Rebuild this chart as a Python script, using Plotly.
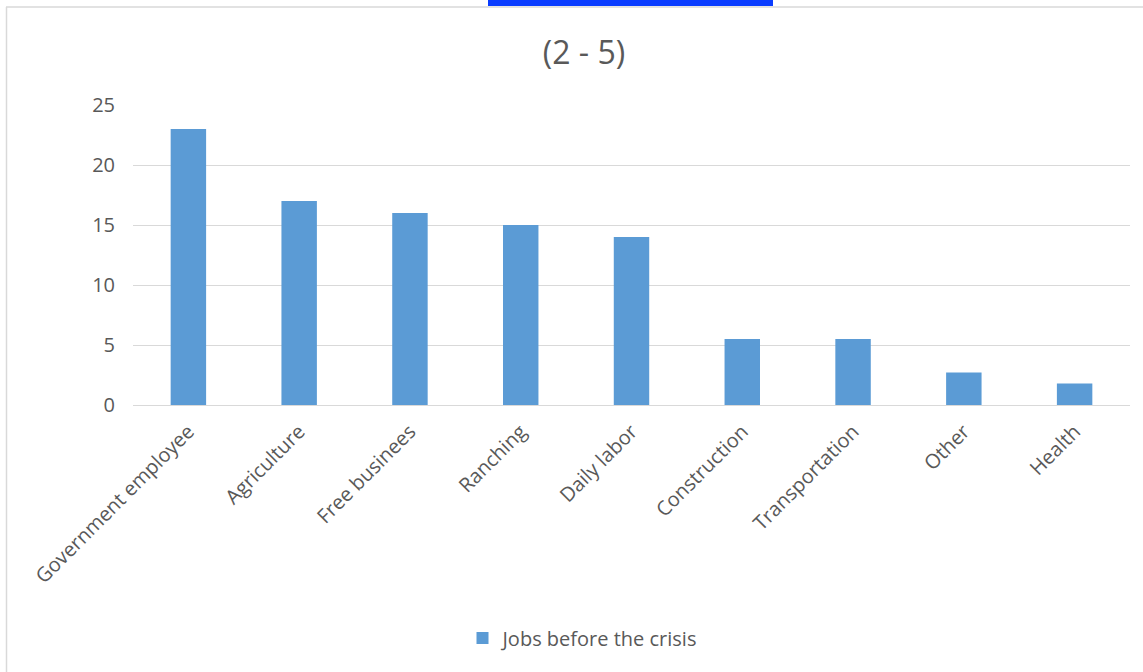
import plotly.graph_objects as go

categories = ["Government employee", "Agriculture", "Free businees", "Ranching",
              "Daily labor", "Construction", "Transportation", "Other", "Health"]
values = [23, 17, 16, 15, 14, 5.5, 5.5, 2.7, 1.8]
series_name = "Jobs before the crisis"
y_ticks = [0, 5, 10, 15, 20, 25]

W, H = 1143, 672
L, R, T, B = 133, 13, 105, 267
pw, ph = W - L - R, H - T - B

def px_x(x):
    return (x - L) / pw

def px_y(y):
    return (H - B - y) / ph

FONT = "Open Sans"
TXT = "#595959"

fig = go.Figure()
fig.add_trace(go.Bar(
    x=categories, y=values, name=series_name,
    marker=dict(color="#5b9bd5", line=dict(width=0)),
    width=0.32, showlegend=True,
))

fig.update_layout(
    width=W, height=H, autosize=False,
    margin=dict(l=L, r=R, t=T, b=B),
    paper_bgcolor="white", plot_bgcolor="white",
    title=dict(text="(2 - 5)", x=584 / W, xanchor="center", y=1 - 53 / H, yanchor="middle",
               font=dict(family=FONT, size=32, color=TXT)),
    showlegend=True,
    legend=dict(orientation="h", x=px_x(583), xanchor="center", y=px_y(638), yanchor="middle",
                font=dict(family=FONT, size=20, color=TXT)),
    bargap=0.68,
)
fig.update_xaxes(
    tickangle=-45, tickfont=dict(family=FONT, size=20, color=TXT),
    showgrid=False, showline=True, linecolor="#d9d9d9", linewidth=1,
    ticks="", range=[-0.5, len(categories) - 0.5], ticklabelstandoff=6,
)
fig.update_yaxes(
    range=[0, 25], tickvals=y_ticks, tickfont=dict(family=FONT, size=20, color=TXT),
    showgrid=True, gridcolor="#d9d9d9", gridwidth=1, zeroline=False,
    showline=False, ticks="", ticklabelstandoff=17,
)

# outer chart frame (top and left edges)
fig.add_shape(type="line", xref="paper", yref="paper",
              x0=px_x(6), x1=px_x(1143), y0=px_y(7), y1=px_y(7),
              line=dict(color="#d9d9d9", width=1.5))
fig.add_shape(type="line", xref="paper", yref="paper",
              x0=px_x(6.5), x1=px_x(6.5), y0=px_y(7), y1=px_y(672),
              line=dict(color="#d9d9d9", width=1.5))
# blue tab at the top
fig.add_shape(type="rect", xref="paper", yref="paper",
              x0=px_x(488), x1=px_x(773), y0=px_y(6), y1=px_y(0),
              line=dict(width=0), fillcolor="#0a3cff")

fig.write_html("out.html", config={"displayModeBar": False},
               post_script="document.body.style.margin='0px';")
